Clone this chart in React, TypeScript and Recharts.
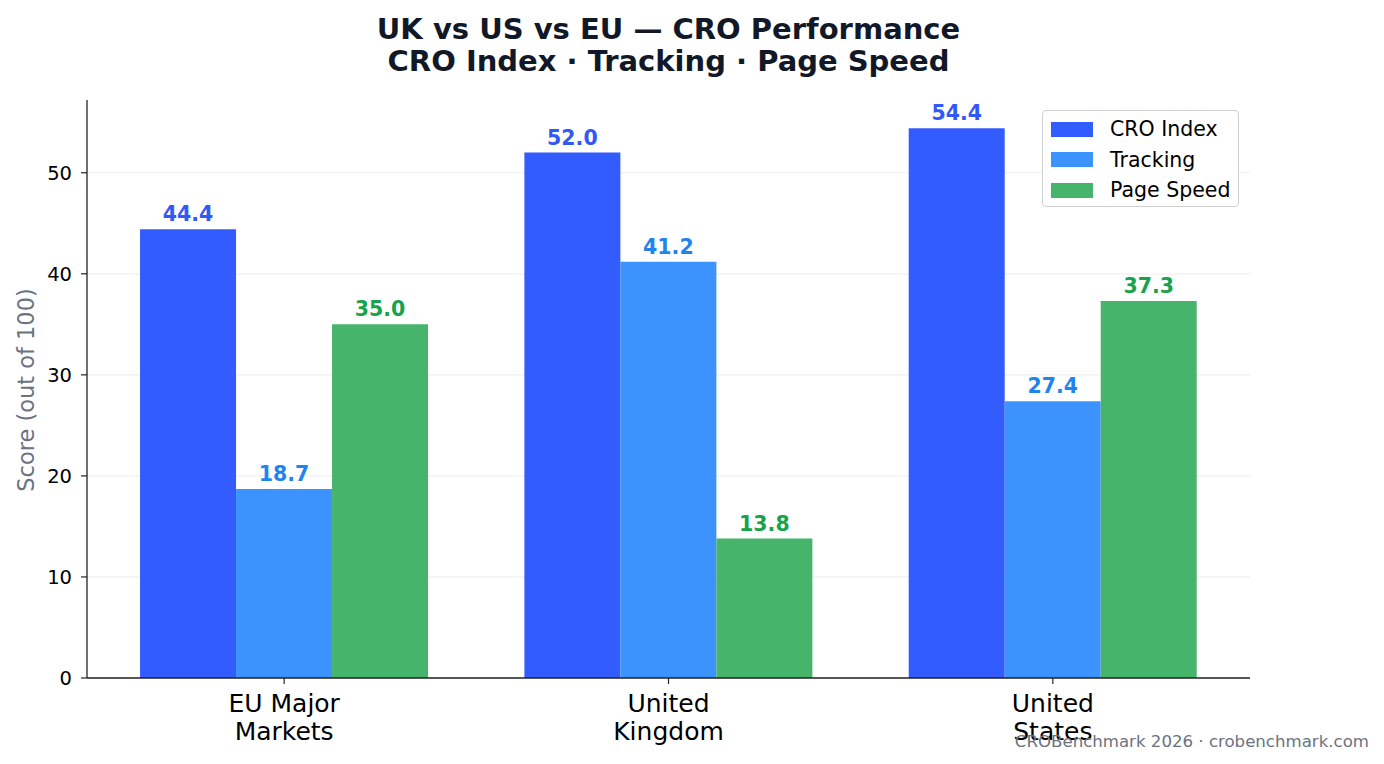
import React from 'react';
import { Bar, BarChart, CartesianGrid, LabelList, XAxis, YAxis } from 'recharts';

const regions = ['EU Major\nMarkets', 'United\nKingdom', 'United\nStates'];
const croIndex = [44.4, 52.0, 54.4];
const tracking = [18.7, 41.2, 27.4];
const pageSpeed = [35.0, 13.8, 37.3];
const yTicks = [0, 10, 20, 30, 40, 50];

const series = [
  { key: 'cro', name: 'CRO Index', fill: '#335cff', label: '#3358f8' },
  { key: 'tracking', name: 'Tracking', fill: '#3c93fd', label: '#1f84f0' },
  { key: 'speed', name: 'Page Speed', fill: '#47b46c', label: '#17a34a' },
];

const data = regions.map((region, i) => ({
  region,
  cro: croIndex[i],
  tracking: tracking[i],
  speed: pageSpeed[i],
}));

const FONT = 'DejaVu Sans, sans-serif';

// two-line category labels
function RegionTick(props: any) {
  const { x, y, payload } = props;
  const lines = String(payload.value).split('\n');
  return (
    <g transform={`translate(${x},${y})`}>
      <line x1={0} x2={0} y1={-8} y2={-2} stroke="#222" strokeWidth={1.2} />
      {lines.map((line, i) => (
        <text key={i} x={0} y={26 + i * 28} textAnchor="middle" fontSize={25} fill="#000" fontFamily={FONT}>
          {line}
        </text>
      ))}
    </g>
  );
}

function LegendBox() {
  return (
    <div
      style={{
        position: 'absolute',
        left: 1042,
        top: 110,
        width: 197,
        height: 97,
        boxSizing: 'border-box',
        border: '1.5px solid #d0d0d0',
        borderRadius: 4,
        background: 'rgba(255,255,255,0.85)',
        padding: '3px 0 0 8px',
        fontFamily: FONT,
        fontSize: 20.5,
        color: '#000',
      }}
    >
      {series.map((s) => (
        <div key={s.key} style={{ display: 'flex', alignItems: 'center', height: 30.5 }}>
          <span style={{ width: 42, height: 15, background: s.fill, display: 'inline-block', marginRight: 17 }} />
          <span>{s.name}</span>
        </div>
      ))}
    </div>
  );
}

export default function App() {
  return (
    <div style={{ position: 'absolute', left: 0, top: 0, width: 1384, height: 764, background: '#fff', fontFamily: FONT }}>
      <div
        style={{
          position: 'absolute',
          left: 0,
          width: 1337,
          top: 13,
          textAlign: 'center',
          fontWeight: 'bold',
          fontSize: 29,
          lineHeight: '32px',
          color: '#111827',
        }}
      >
        UK vs US vs EU — CRO Performance
        <br />
        CRO Index · Tracking · Page Speed
      </div>
      <BarChart
        width={1384}
        height={764}
        data={data}
        margin={{ top: 100, right: 134, left: 27, bottom: 26 }}
        barCategoryGap="12.5%"
        barGap={0}
        style={{ position: 'absolute', left: 0, top: 0 }}
      >
        <CartesianGrid horizontal vertical={false} stroke="#f0f0f0" strokeWidth={1.2} syncWithTicks />
        <XAxis
          dataKey="region"
          tick={<RegionTick />}
          tickLine={false}
          axisLine={{ stroke: '#222', strokeWidth: 1.3 }}
          interval={0}
          height={60}
          padding={{ left: 5, right: 5 }}
        />
        <YAxis
          domain={[0, 57.2]}
          ticks={yTicks}
          width={60}
          tick={{ fontSize: 19.5, fill: '#000', fontFamily: FONT }}
          tickLine={{ stroke: '#222', strokeWidth: 1.2 }}
          tickSize={6}
          tickMargin={9}
          axisLine={{ stroke: '#222', strokeWidth: 1.3 }}
        />
        {series.map((s) => (
          <Bar key={s.key} dataKey={s.key} name={s.name} fill={s.fill} isAnimationActive={false}>
            <LabelList
              dataKey={s.key}
              position="top"
              offset={8}
              formatter={(v: any) => Number(v).toFixed(1)}
              style={{ fontSize: 20.5, fontWeight: 'bold', fill: s.label, fontFamily: FONT }}
            />
          </Bar>
        ))}
      </BarChart>
      <svg width={60} height={764} style={{ position: 'absolute', left: 0, top: 0 }}>
        <text
          transform="translate(26,390) rotate(-90)"
          textAnchor="middle"
          dominantBaseline="central"
          fontSize={22.5}
          fill="#6b7280"
          fontFamily={FONT}
        >
          Score (out of 100)
        </text>
      </svg>
      <LegendBox />
      <div
        style={{
          position: 'absolute',
          right: 15,
          top: 732,
          fontSize: 16.6,
          color: '#6b7280',
          fontFamily: FONT,
        }}
      >
        CROBenchmark 2026 · crobenchmark.com
      </div>
    </div>
  );
}
